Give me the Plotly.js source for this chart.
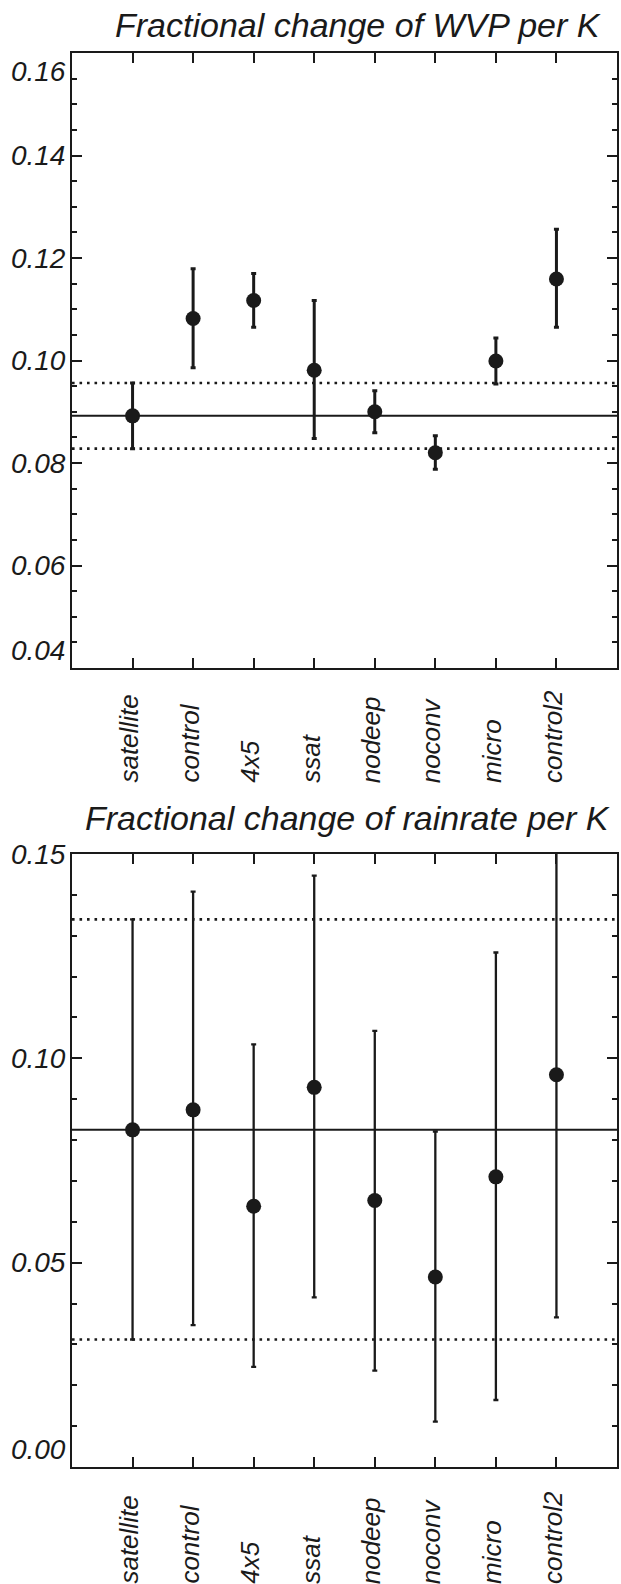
<!DOCTYPE html>
<html>
<head>
<meta charset="utf-8">
<script src="https://cdn.plot.ly/plotly-3.0.1.min.js"></script>
<style>
  html, body { margin: 0; padding: 0; background: #fff; }
  #chart { width: 621px; height: 1584px; }
</style>
</head>
<body>
<div id="chart"></div>
<script>
// ---- Data ----
const categories = ['satellite', 'control', '4x5', 'ssat', 'nodeep', 'noconv', 'micro', 'control2'];

// Panel 1: Fractional change of WVP per K
const wvpTitle = 'Fractional change of WVP per K';
const wvpMean  = [0.0892, 0.1082, 0.1117, 0.0981, 0.0900, 0.0820, 0.0999, 0.1159];
const wvpUpper = [0.0956, 0.1179, 0.1170, 0.1117, 0.0941, 0.0853, 0.1044, 0.1256];
const wvpLower = [0.0828, 0.0986, 0.1065, 0.0848, 0.0859, 0.0788, 0.0954, 0.1065];
const wvpRefMean  = 0.0892;
const wvpRefUpper = 0.0956;
const wvpRefLower = 0.0828;
const wvpRange = [0.04, 0.16];
const wvpTickVals = [0.04, 0.06, 0.08, 0.10, 0.12, 0.14, 0.16];
// end labels sit nudged inward from the frame (blank line pushes them)
const wvpTickText = ['0.04<br>\u00a0', '0.06', '0.08', '0.10', '0.12', '0.14', '\u00a0<br>0.16'];

// Panel 2: Fractional change of rainrate per K
const rainTitle = 'Fractional change of rainrate per K';
const rainMean  = [0.0825, 0.0874, 0.0638, 0.0929, 0.0652, 0.0465, 0.0710, 0.0960];
const rainUpper = [0.1340, 0.1408, 0.1034, 0.1447, 0.1067, 0.0821, 0.1259, 0.1554];
const rainLower = [0.0312, 0.0347, 0.0245, 0.0415, 0.0236, 0.0111, 0.0164, 0.0366];
const rainRefMean  = 0.0825;
const rainRefUpper = 0.1340;
const rainRefLower = 0.0312;
const rainRange = [0, 0.15];
const rainTickVals = [0.00, 0.05, 0.10, 0.15];
const rainTickText = ['0.00<br>\u00a0', '0.05', '0.10', '0.15'];

// ---- Styling ----
const FONT = '"Liberation Sans", Arial, Helvetica, sans-serif';
const INK = '#1a1a1a';
const TICKFONT = { family: FONT, size: 28, color: INK, style: 'italic' };

function errTrace(mean, upper, lower, xa, ya, thick) {
  return {
    type: 'scatter', mode: 'markers',
    x: categories, y: mean,
    xaxis: xa, yaxis: ya,
    marker: { symbol: 'circle', size: 15, color: INK },
    error_y: {
      type: 'data', symmetric: false,
      array: upper.map((u, i) => u - mean[i]),
      arrayminus: lower.map((l, i) => mean[i] - l),
      color: INK, thickness: thick, width: 2.5
    },
    showlegend: false, hoverinfo: 'skip'
  };
}

const data = [
  errTrace(wvpMean, wvpUpper, wvpLower, 'x', 'y', 3),
  errTrace(rainMean, rainUpper, rainLower, 'x2', 'y2', 2.3)
];

function xAxis(anchor) {
  return {
    type: 'category', categoryorder: 'array', categoryarray: categories,
    range: [-1, categories.length],
    domain: [72 / 621, 617 / 621],
    anchor: anchor,
    showline: true, linecolor: INK, linewidth: 2, mirror: 'allticks',
    ticks: 'inside', ticklen: 10, tickwidth: 2, tickcolor: INK,
    showticklabels: false, showgrid: false, zeroline: false, fixedrange: true
  };
}

function yAxis(anchor, range, minorDtick, domain, tickvals, ticktext) {
  return {
    range: range, domain: domain, anchor: anchor,
    tickmode: 'array', tickvals: tickvals, ticktext: ticktext,
    showline: true, linecolor: INK, linewidth: 2, mirror: 'allticks',
    ticks: 'inside', ticklen: 10, tickwidth: 2, tickcolor: INK,
    minor: { dtick: minorDtick, ticks: 'inside', ticklen: 5, tickwidth: 2, tickcolor: INK, showgrid: false },
    ticklabelstandoff: -1,
    tickfont: TICKFONT,
    showgrid: false, zeroline: false, fixedrange: true
  };
}

function refLine(xref, yref, val, solid) {
  return {
    type: 'line', layer: 'below', xref: xref + ' domain', yref: yref,
    x0: 0, x1: 1, y0: val, y1: val,
    line: { color: INK, width: solid ? 2 : 2.6, dash: solid ? 'solid' : '2.6px,4.9px' }
  };
}

const annotations = [];
function titleAnn(text, xPx, yPx) {
  annotations.push({
    text: text, xref: 'paper', yref: 'paper', x: xPx / 621, y: 1 - yPx / 1584,
    xanchor: 'center', yanchor: 'middle', showarrow: false,
    font: { family: FONT, size: 34, color: INK, style: 'italic' }
  });
}
function catLabels(xref, bottomPx) {
  categories.forEach(c => {
    annotations.push({
      text: c, xref: xref, yref: 'paper', x: c, y: 1 - bottomPx / 1584,
      xanchor: 'center', yanchor: 'bottom', textangle: -90, xshift: -4,
      showarrow: false,
      font: { family: FONT, size: 26, color: INK, style: 'italic' }
    });
  });
}
titleAnn(wvpTitle, 358, 25);
titleAnn(rainTitle, 347, 818);
catLabels('x', 785);
catLabels('x2', 1586);

const topDomain = [1 - 668 / 1584, 1 - 53 / 1584];
const botDomain = [1 - 1467 / 1584, 1 - 854 / 1584];

const layout = {
  width: 621, height: 1584,
  margin: { l: 0, r: 0, t: 0, b: 0 },
  paper_bgcolor: '#ffffff', plot_bgcolor: '#ffffff',
  showlegend: false,
  xaxis: xAxis('y'),
  yaxis: yAxis('x', wvpRange, 0.005, topDomain, wvpTickVals, wvpTickText),
  xaxis2: xAxis('y2'),
  yaxis2: yAxis('x2', rainRange, 0.01, botDomain, rainTickVals, rainTickText),
  shapes: [
    refLine('x', 'y', wvpRefMean, true),
    refLine('x', 'y', wvpRefUpper, false),
    refLine('x', 'y', wvpRefLower, false),
    refLine('x2', 'y2', rainRefMean, true),
    refLine('x2', 'y2', rainRefUpper, false),
    refLine('x2', 'y2', rainRefLower, false)
  ],
  annotations: annotations
};

Plotly.newPlot('chart', data, layout, { staticPlot: true, displayModeBar: false });
</script>
</body>
</html>
